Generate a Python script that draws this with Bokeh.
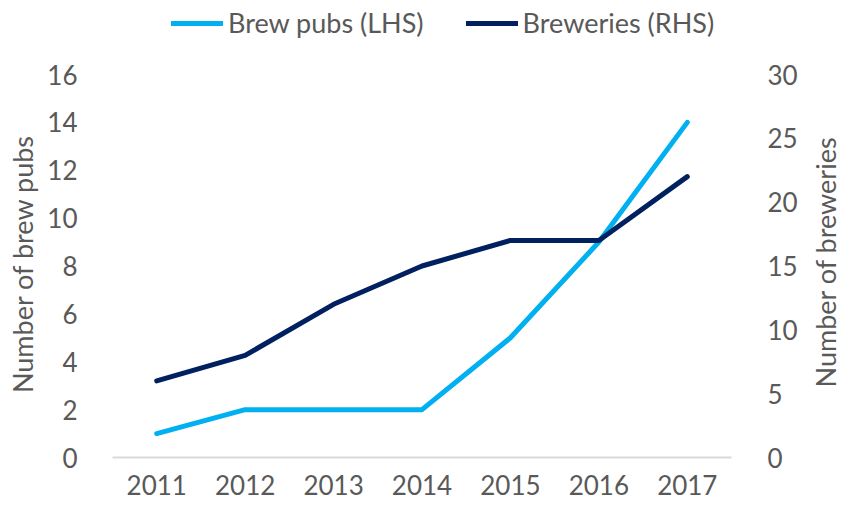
import math
from bokeh.plotting import figure
from bokeh.layouts import row
from bokeh.models import Range1d, FactorRange, LinearAxis, Legend, LegendItem, FixedTicker, Label
from bokeh.embed import file_html
from bokeh.resources import INLINE

years = ["2011", "2012", "2013", "2014", "2015", "2016", "2017"]
brew_pubs = [1, 2, 2, 2, 5, 9, 14]
breweries = [6, 8, 12, 15, 17, 17, 22]
left_ticks = [0, 2, 4, 6, 8, 10, 12, 14, 16]
right_ticks = [0, 5, 10, 15, 20, 25, 30]
left_max, right_max = 16, 30

FONT = "Lato"
TXT = "#595959"
LIGHT = "#00B0F0"
DARK = "#002060"

H = 500
BOTTOM_BORDER = 43
FRAME_H = H - BOTTOM_BORDER          # frame spans from top of figure
TOP_TICK_PX = 74                     # pixel row of the top tick
scale = FRAME_H / (FRAME_H - TOP_TICK_PX)

LEFT_W, MAIN_W, RIGHT_W = 44, 761, 36

p = figure(width=MAIN_W, height=H, x_range=FactorRange(factors=years, range_padding=0),
           y_range=Range1d(0, left_max * scale), output_backend="svg", toolbar_location=None,
           min_border_left=67, min_border_right=74, min_border_top=0, min_border_bottom=BOTTOM_BORDER)
p.extra_y_ranges = {"rhs": Range1d(0, right_max * scale)}
p.outline_line_color = None
p.xgrid.visible = False
p.ygrid.visible = False

r1 = p.line(x=years, y=brew_pubs, line_color=LIGHT, line_width=5, line_cap="round", line_join="round")
r2 = p.line(x=years, y=breweries, y_range_name="rhs", line_color=DARK, line_width=5,
            line_cap="round", line_join="round")

xa = p.xaxis[0]
xa.axis_line_color = "#D9D9D9"
xa.axis_line_width = 2
xa.major_tick_line_color = None
xa.minor_tick_line_color = None
xa.major_label_text_font = FONT
xa.major_label_text_font_size = "26px"
xa.major_label_text_color = TXT
xa.major_label_standoff = 11

ya = p.yaxis[0]
ya.ticker = FixedTicker(ticks=left_ticks)
ya.axis_line_color = None
ya.major_tick_line_color = None
ya.minor_tick_line_color = None
ya.major_label_text_font = FONT
ya.major_label_text_font_size = "26px"
ya.major_label_text_color = TXT
ya.major_label_standoff = 29

ra = LinearAxis(y_range_name="rhs", ticker=FixedTicker(ticks=right_ticks))
ra.axis_line_color = None
ra.major_tick_line_color = None
ra.minor_tick_line_color = None
ra.major_label_text_font = FONT
ra.major_label_text_font_size = "26px"
ra.major_label_text_color = TXT
ra.major_label_standoff = 30
p.add_layout(ra, "right")

legend = Legend(items=[LegendItem(label="Brew pubs (LHS)", renderers=[r1]),
                       LegendItem(label="Breweries (RHS)", renderers=[r2])],
                orientation="horizontal", location=(59, FRAME_H - 39),
                glyph_width=52, glyph_height=20, label_standoff=5, spacing=42,
                padding=0, margin=0, border_line_color=None, background_fill_alpha=0,
                label_text_font=FONT, label_text_font_size="27px", label_text_color=TXT)
p.add_layout(legend, "center")


def title_fig(width, text, cx, cy):
    f = figure(width=width, height=H, x_range=Range1d(0, width), y_range=Range1d(0, H),
               x_axis_type=None, y_axis_type=None, output_backend="svg", toolbar_location=None,
               min_border=0, outline_line_color=None)
    f.add_layout(Label(x=cx, y=H - cy, text=text, angle=math.pi / 2, text_align="center",
                       text_baseline="middle", text_font=FONT, text_font_size="27px",
                       text_color=TXT))
    return f


left_title = title_fig(LEFT_W, "Number of brew pubs", 22, 288)
right_title = title_fig(RIGHT_W, "Number of breweries", 20, 286)

layout = row(left_title, p, right_title, spacing=0)
open("out.html", "w").write(file_html(layout, INLINE))
